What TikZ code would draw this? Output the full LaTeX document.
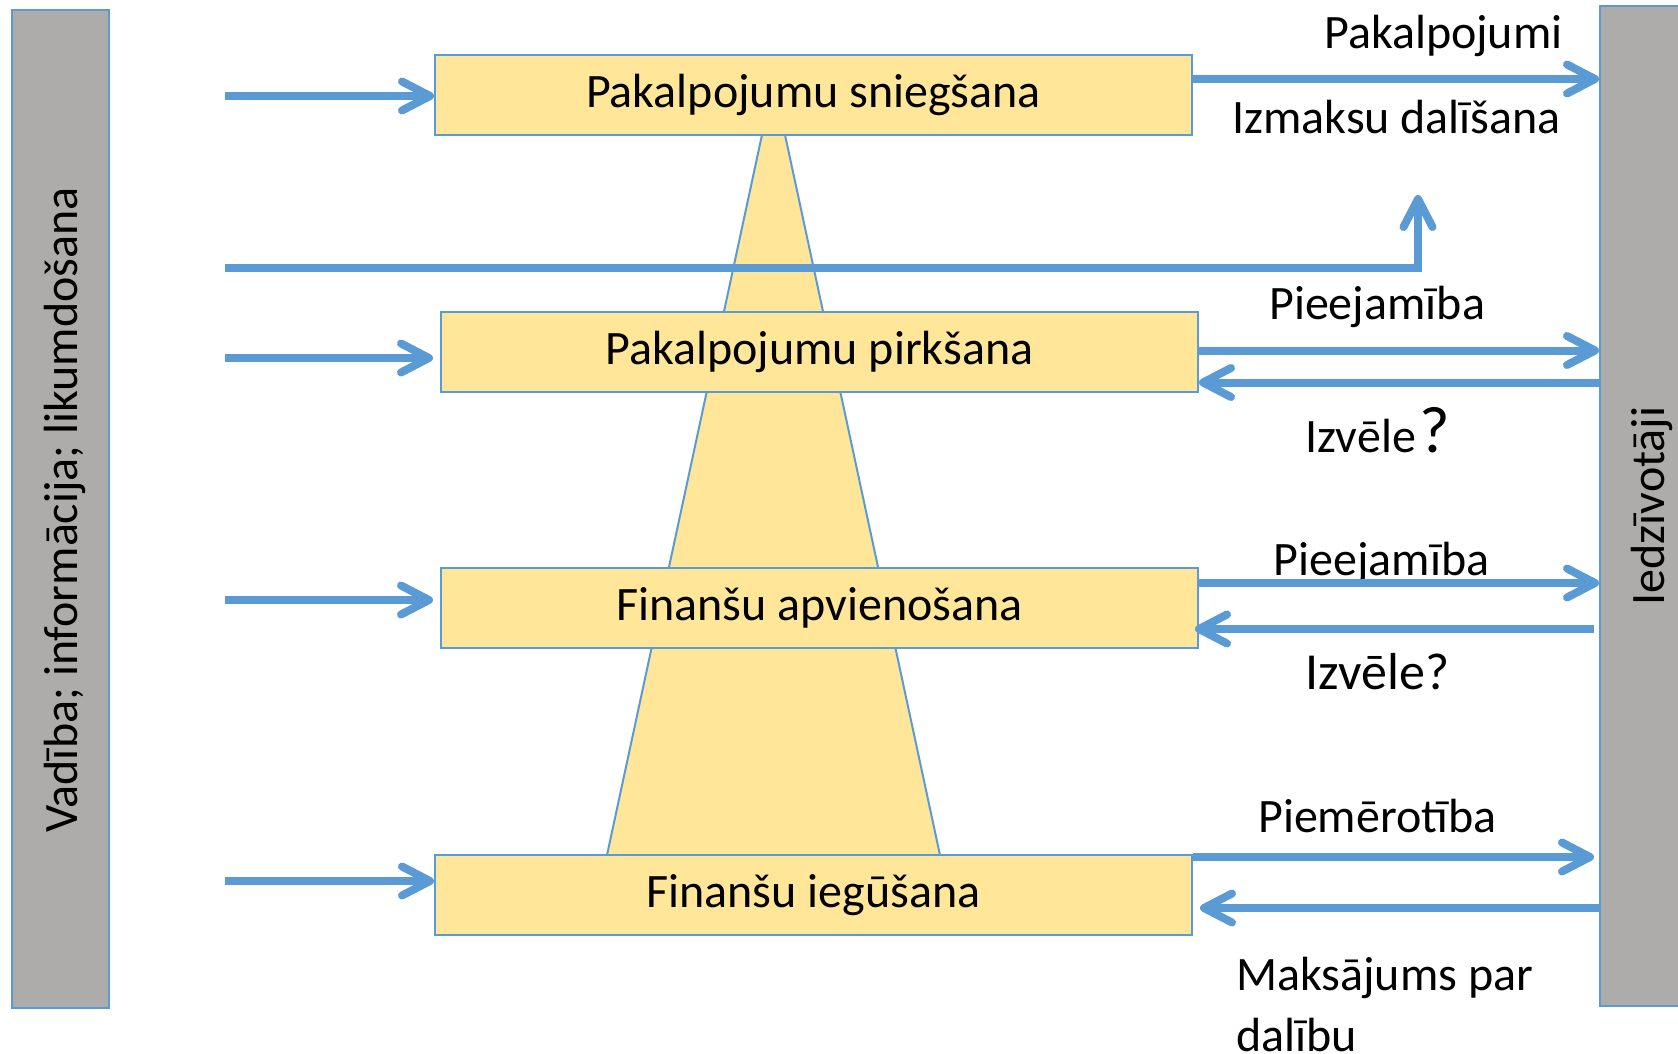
\documentclass[tikz,border=0pt]{standalone}
\usepackage{fontspec}
\setmainfont{Carlito}
\usetikzlibrary{arrows.meta}
\definecolor{ablue}{HTML}{5B9BD5}
\definecolor{ayellow}{HTML}{FFE699}
\definecolor{agray}{HTML}{AEABAB}
\begin{document}
\begin{tikzpicture}[x=1pt,y=-1pt,
  arr/.style={draw=ablue, line width=8pt, -{Straight Barb[length=28pt,width=29pt,round]}},
  procbox/.style={draw=ablue, line width=2pt, fill=ayellow, minimum width=757pt, minimum height=80pt, inner sep=0pt, font=\fontsize{48}{57}\selectfont},
  bar/.style={draw=ablue, line width=2pt, fill=agray, inner sep=0pt},
  lbl/.style={inner sep=0pt, font=\fontsize{48}{57}\selectfont, anchor=base west},
  vlbl/.style={inner sep=0pt, font=\fontsize{48}{57}\selectfont, rotate=90, anchor=base},
]
\useasboundingbox (0,0) rectangle (1678,1054);
% side bars
\node[bar, minimum width=97pt, minimum height=998pt] (lbar) at (60.5,509) {};
\node[vlbl] (ltext) at (77,510) {Vadība; informācija; likumdošana};
\node[bar, minimum width=90pt, minimum height=1000pt] (rbar) at (1645,506) {};
\node[vlbl] (rtext) at (1664,506) {Iedzīvotāji};
% trapezoid
\fill[ayellow, draw=ablue, line width=2pt] (769.5,100) -- (777.5,100) -- (943.2,870) -- (603.8,870) -- cycle;
% long line to cost sharing
\coordinate (g0) at (225,267.5);
\coordinate (g1) at (1418,195);
\draw[arr] (g0) -| (g1);
% boxes
\node[procbox] (box1) at (813.5,95) {Pakalpojumu sniegšana};
\node[procbox] (box2) at (819.5,352) {Pakalpojumu pirkšana};
\node[procbox] (box3) at (819.5,608) {Finanšu apvienošana};
\node[procbox] (box4) at (813.5,895) {Finanšu iegūšana};
% left arrows
\coordinate (i1) at (225,96);
\coordinate (i2) at (225,358);
\coordinate (i3) at (225,600);
\coordinate (i4) at (225,881);
\draw[arr] (i1) -- (i1 -| box1.west);
\draw[arr, shorten >=7pt] (i2) -- (i2 -| box2.west);
\draw[arr, shorten >=7pt] (i3) -- (i3 -| box3.west);
\draw[arr] (i4) -- (i4 -| box4.west);
% labels
\node[lbl] (t1) at (1324,48.5) {Pakalpojumi};
\node[lbl] (t2) at (1232,134) {Izmaksu dalīšana};
\node[lbl] (t3) at (1269,319.5) {Pieejamība};
\node[lbl] (t4) at (1305,452) {Izvēle\kern4pt{\fontsize{66}{66}\selectfont ?}};
\node[lbl] (t5) at (1273.5,575) {Pieejamība};
\node[lbl, font=\fontsize{52}{60}\selectfont] (t6) at (1305,689) {Izvēle?};
\node[lbl] (t7) at (1258,832.5) {Piemērotība};
\node[lbl] (t8) at (1236,990.5) {Maksājums par};
\node[lbl] (t9) at (1236,1051) {dalību};
% right arrows
\coordinate (o1) at (1600,79);
\coordinate (o2a) at (1600,350.5);
\coordinate (o2b) at (1600,382.5);
\coordinate (o3a) at (1600,583);
\coordinate (o3b) at (1594,629);
\coordinate (o4a) at (1594,857);
\coordinate (o4b) at (1600,908);
\draw[arr] (o1 -| box1.east) -- (o1 -| rbar.west);
\draw[arr] (o2a -| box2.east) -- (o2a -| rbar.west);
\draw[arr] (o2b -| rbar.west) -- (o2b -| box2.east);
\draw[arr] (o3a -| box3.east) -- (o3a -| rbar.west);
\draw[arr, shorten >=-4pt] (o3b) -- (o3b -| box3.east);
\draw[arr] (o4a -| box4.east) -- (o4a);
\draw[arr, shorten >=7pt] (o4b -| rbar.west) -- (o4b -| box4.east);
\end{tikzpicture}
\end{document}
